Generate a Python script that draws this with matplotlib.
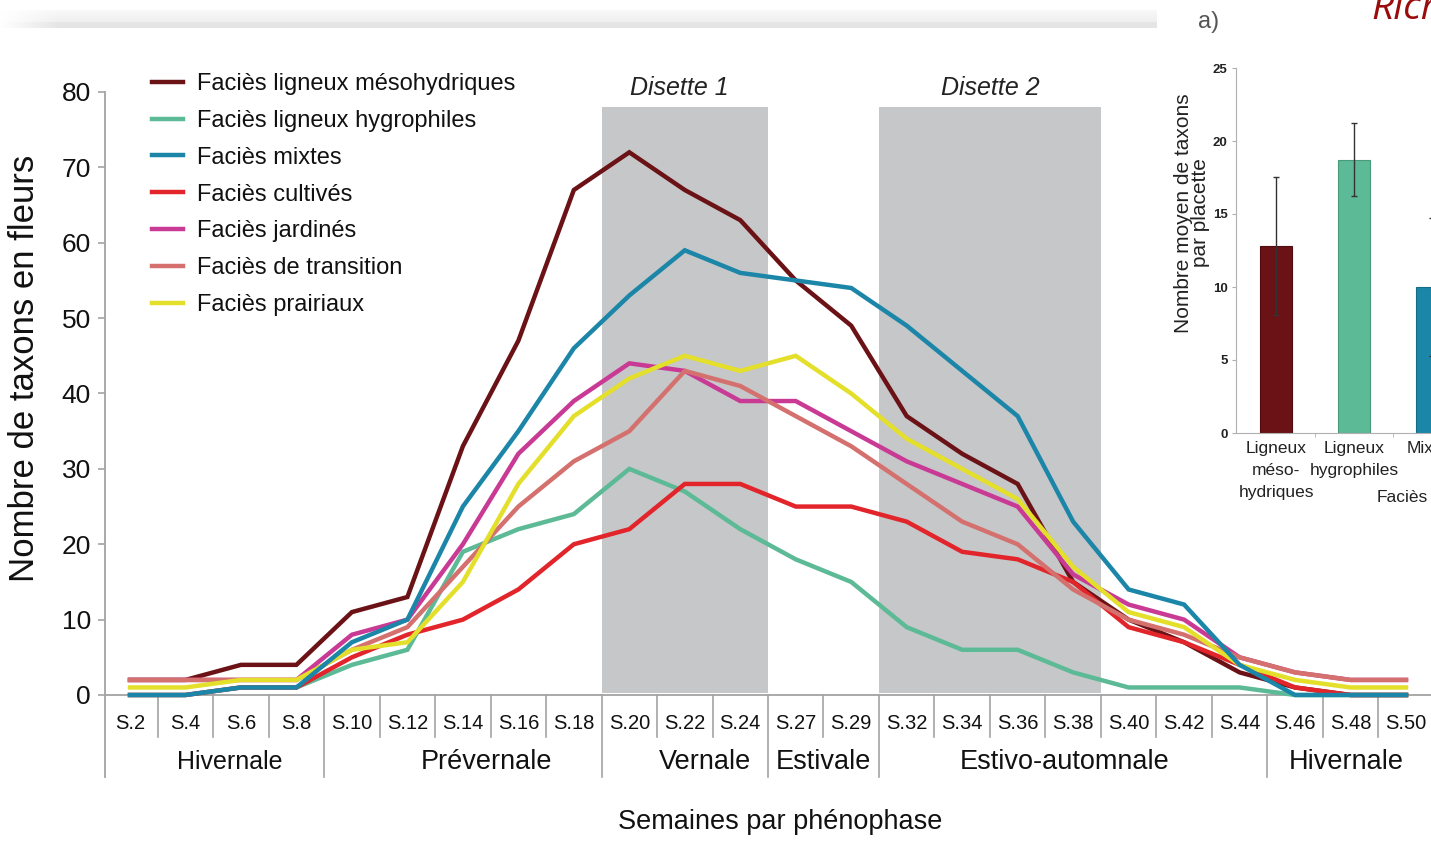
import numpy as np
import matplotlib
matplotlib.use("Agg")
import matplotlib.pyplot as plt
from matplotlib.transforms import blended_transform_factory

plt.rcParams['font.family'] = ['Liberation Sans', 'DejaVu Sans']

# ---------------- data ----------------
weeks = ["S.2", "S.4", "S.6", "S.8", "S.10", "S.12", "S.14", "S.16", "S.18", "S.20",
         "S.22", "S.24", "S.27", "S.29", "S.32", "S.34", "S.36", "S.38", "S.40", "S.42",
         "S.44", "S.46", "S.48", "S.50"]

series_names = ["Faciès ligneux mésohydriques", "Faciès ligneux hygrophiles", "Faciès mixtes",
                "Faciès cultivés", "Faciès jardinés", "Faciès de transition", "Faciès prairiaux"]

meso = [2, 2, 4, 4, 11, 13, 33, 47, 67, 72, 67, 63, 55, 49, 37, 32, 28, 15, 10, 7, 3, 1, 0, 0]
hygro = [0, 0, 1, 1, 4, 6, 19, 22, 24, 30, 27, 22, 18, 15, 9, 6, 6, 3, 1, 1, 1, 0, 0, 0]
mixtes = [0, 0, 1, 1, 7, 10, 25, 35, 46, 53, 59, 56, 55, 54, 49, 43, 37, 23, 14, 12, 4, 0, 0, 0]
cultives = [0, 0, 1, 1, 5, 8, 10, 14, 20, 22, 28, 28, 25, 25, 23, 19, 18, 15, 9, 7, 4, 1, 0, 0]
jardines = [2, 2, 2, 2, 8, 10, 20, 32, 39, 44, 43, 39, 39, 35, 31, 28, 25, 16, 12, 10, 5, 3, 2, 2]
transition = [2, 2, 2, 2, 6, 9, 17, 25, 31, 35, 43, 41, 37, 33, 28, 23, 20, 14, 10, 8, 5, 3, 2, 2]
prairiaux = [1, 1, 2, 2, 6, 7, 15, 28, 37, 42, 45, 43, 45, 40, 34, 30, 26, 17, 11, 9, 4, 2, 1, 1]

phase_names = ["Hivernale", "Prévernale", "Vernale", "Estivale", "Estivo-automnale", "Hivernale"]
phase_lengths = [4, 5, 3, 2, 7, 3]

disette_names = ["Disette 1", "Disette 2"]
disette_first = ["S.20", "S.32"]
disette_last = ["S.24", "S.38"]

inset_cats = ["Ligneux\nméso-\nhydriques", "Ligneux\nhygrophiles", "Mixtes"]
inset_means = [12.8, 18.7, 10.0]
inset_err = [4.75, 2.5, 4.7]

# ---------------- styles ----------------
colors = ["#6b1216", "#5dba96", "#1b86a8", "#e2242b", "#c93a95", "#d4716f", "#e3df2a"]
zorders = [3, 3.1, 3.6, 3.2, 3.3, 3.4, 3.5]
box_color = "#c6c7c9"
grid_gray = "#a3a3a3"

W, H = 1431, 850
fig = plt.figure(figsize=(W / 100, H / 100), dpi=100)

def fx(px):
    return px / W

def fy(py):
    return 1 - py / H

# top slide shadow band
band = fig.add_axes([0, fy(28), fx(1157), 18 / H])
band.set_axis_off()
rows = np.concatenate([np.linspace(0.975, 0.94, 12), np.full(6, 0.90)])
cols = np.clip(np.linspace(0, 1, 1157) / 0.05, 0, 1)
img = 1 - (1 - rows[:, None]) * cols[None, :]
band.imshow(np.dstack([img, img, img]), aspect='auto', interpolation='bilinear', extent=(0, 1, 0, 1))

# ---------------- main axes ----------------
px_per_unit = (1406 - 130) / 23
x_left = -(130 - 105) / px_per_unit
x_right = (1436 - 130) / px_per_unit
ax = fig.add_axes([fx(105), fy(695), fx(1436 - 105), (695 - 92) / H])
ax.set_xlim(x_left, x_right)
ax.set_ylim(0, 80)
ax.patch.set_alpha(0)

x = np.arange(len(weeks))
idx = {w: i for i, w in enumerate(weeks)}

# disette boxes
top_val = 78
for name, a, b in zip(disette_names, disette_first, disette_last):
    x0, x1 = idx[a] - 0.5, idx[b] + 0.5
    ax.axvspan(x0, x1, ymin=0.004, ymax=top_val / 80, color=box_color, zorder=1, lw=0)
    ax.text((x0 + x1) / 2 - (0.1 if name.endswith("1") else 0), top_val + 0.9, name,
            ha='center', va='bottom', fontsize=18, style='italic', color='#222222')

all_series = [meso, hygro, mixtes, cultives, jardines, transition, prairiaux]
handles = []
for vals, name, c, z in zip(all_series, series_names, colors, zorders):
    ln, = ax.plot(x, vals, color=c, lw=3.2, label=name, zorder=z, clip_on=False,
                  solid_joinstyle='miter')
    handles.append(ln)

# axes styling
for s in ['top', 'right']:
    ax.spines[s].set_visible(False)
ax.spines['left'].set_color(grid_gray)
ax.spines['bottom'].set_color(grid_gray)
ax.spines['left'].set_linewidth(1.3)
ax.spines['bottom'].set_linewidth(1.3)
ext_long = 82 / 603 * 80
ax.spines['left'].set_bounds(-ext_long, 80)

ax.set_yticks(range(0, 81, 10))
ax.tick_params(axis='y', labelsize=19, length=5, width=1.2, color=grid_gray, pad=5, labelcolor='#111111')
ax.set_xticks(x)
ax.set_xticklabels(weeks)
ax.tick_params(axis='x', labelsize=14.5, length=0, pad=14, labelcolor='#111111')

trans = blended_transform_factory(ax.transData, ax.transAxes)
short_len = 42 / 603
long_len = 82 / 603
bounds = np.cumsum(phase_lengths)[:-1] - 0.5
for i in range(len(weeks) - 1):
    b = i + 0.5
    L = long_len if np.any(np.isclose(bounds, b)) else short_len
    ax.plot([b, b], [0, -L], transform=trans, color=grid_gray, lw=1.2, clip_on=False, zorder=2)

starts = np.concatenate([[0], np.cumsum(phase_lengths)[:-1]])
label_shift = [0.3, 0.43, 0.36, 0.0, -0.16, -0.07]
for name, st, n, sh in zip(phase_names, starts, phase_lengths, label_shift):
    cx = st + (n - 1) / 2 + sh
    ax.text(cx, -(762 - 695) / 603, name, transform=trans, ha='center', va='center',
            fontsize=19.5 if st > 0 else 18, color='#111111')

ax.set_ylabel("Nombre de taxons en fleurs", fontsize=25, color='#111111', va='center')
ax.yaxis.set_label_coords((25 - 105) / (1436 - 105), (695 - 368) / 603)
ax.set_xlabel("Semaines par phénophase", fontsize=19.5, color='#111111', va='center')
ax.xaxis.set_label_coords((780 - 105) / (1436 - 105), -(822 - 695) / 603)

leg = ax.legend(handles=handles, loc='upper left', bbox_to_anchor=(fx(152), fy(73)),
                bbox_transform=fig.transFigure, frameon=False, fontsize=17,
                handlelength=1.3, handletextpad=0.6, labelspacing=0.63,
                borderpad=0, borderaxespad=0)
for t in leg.get_texts():
    t.set_color('#111111')

# ---------------- inset bar chart ----------------
unit = 78
ix_left = -(1276 - 1236) / unit
ix_right = ix_left + 7
ax2 = fig.add_axes([fx(1236), fy(433), fx(7 * unit), 365 / H])
ax2.set_xlim(ix_left, ix_right)
ax2.set_ylim(0, 25)
ax2.patch.set_alpha(0)
xi = np.arange(len(inset_cats))
ax2.bar(xi, inset_means, width=32 / unit, color=colors[:3], edgecolor=['#4e0c0f', '#4a9a7a', '#146c88'],
        linewidth=0.8, zorder=2)
ax2.errorbar(xi, inset_means, yerr=inset_err, fmt='none', ecolor='#333333', elinewidth=1,
             capsize=2, capthick=1, zorder=3)
for s in ['top', 'right']:
    ax2.spines[s].set_visible(False)
ax2.spines['left'].set_color('#b0b0b0')
ax2.spines['bottom'].set_color('#b0b0b0')
ax2.set_yticks(range(0, 26, 5))
ax2.tick_params(axis='y', labelsize=9.5, length=3, color='#b0b0b0', pad=3, labelcolor='#222222')
for t in ax2.get_yticklabels():
    t.set_fontweight('bold')
ax2.set_xticks(xi)
ax2.set_xticklabels(inset_cats, linespacing=1.55)
ax2.set_xticks(xi[:-1] + 0.5, minor=True)
ax2.tick_params(axis='x', which='major', labelsize=12.5, length=0, pad=6, labelcolor='#222222')
ax2.tick_params(axis='x', which='minor', length=3, color='#b0b0b0')
ax2.set_ylabel("Nombre moyen de taxons\npar placette", fontsize=15, linespacing=0.9,
               color='#222222', va='center')
ax2.yaxis.set_label_coords((1192 - 1236) / (7 * unit), (433 - 213) / 365)
ax2.set_xlabel("Faciès", fontsize=12.5, color='#222222', ha='left', va='center')
ax2.xaxis.set_label_coords((1377 - 1236) / (7 * unit), -(497 - 433) / 365)

fig.text(fx(1209), fy(22), "a)", ha='center', va='center', fontsize=17, color='#555555')
fig.text(fx(1371), fy(19), "Rich", ha='left', va='baseline', fontsize=28, style='italic',
         family=['Open Sans', 'DejaVu Sans'], color='#9a0b0b')

fig.savefig("out.png", dpi=100)
